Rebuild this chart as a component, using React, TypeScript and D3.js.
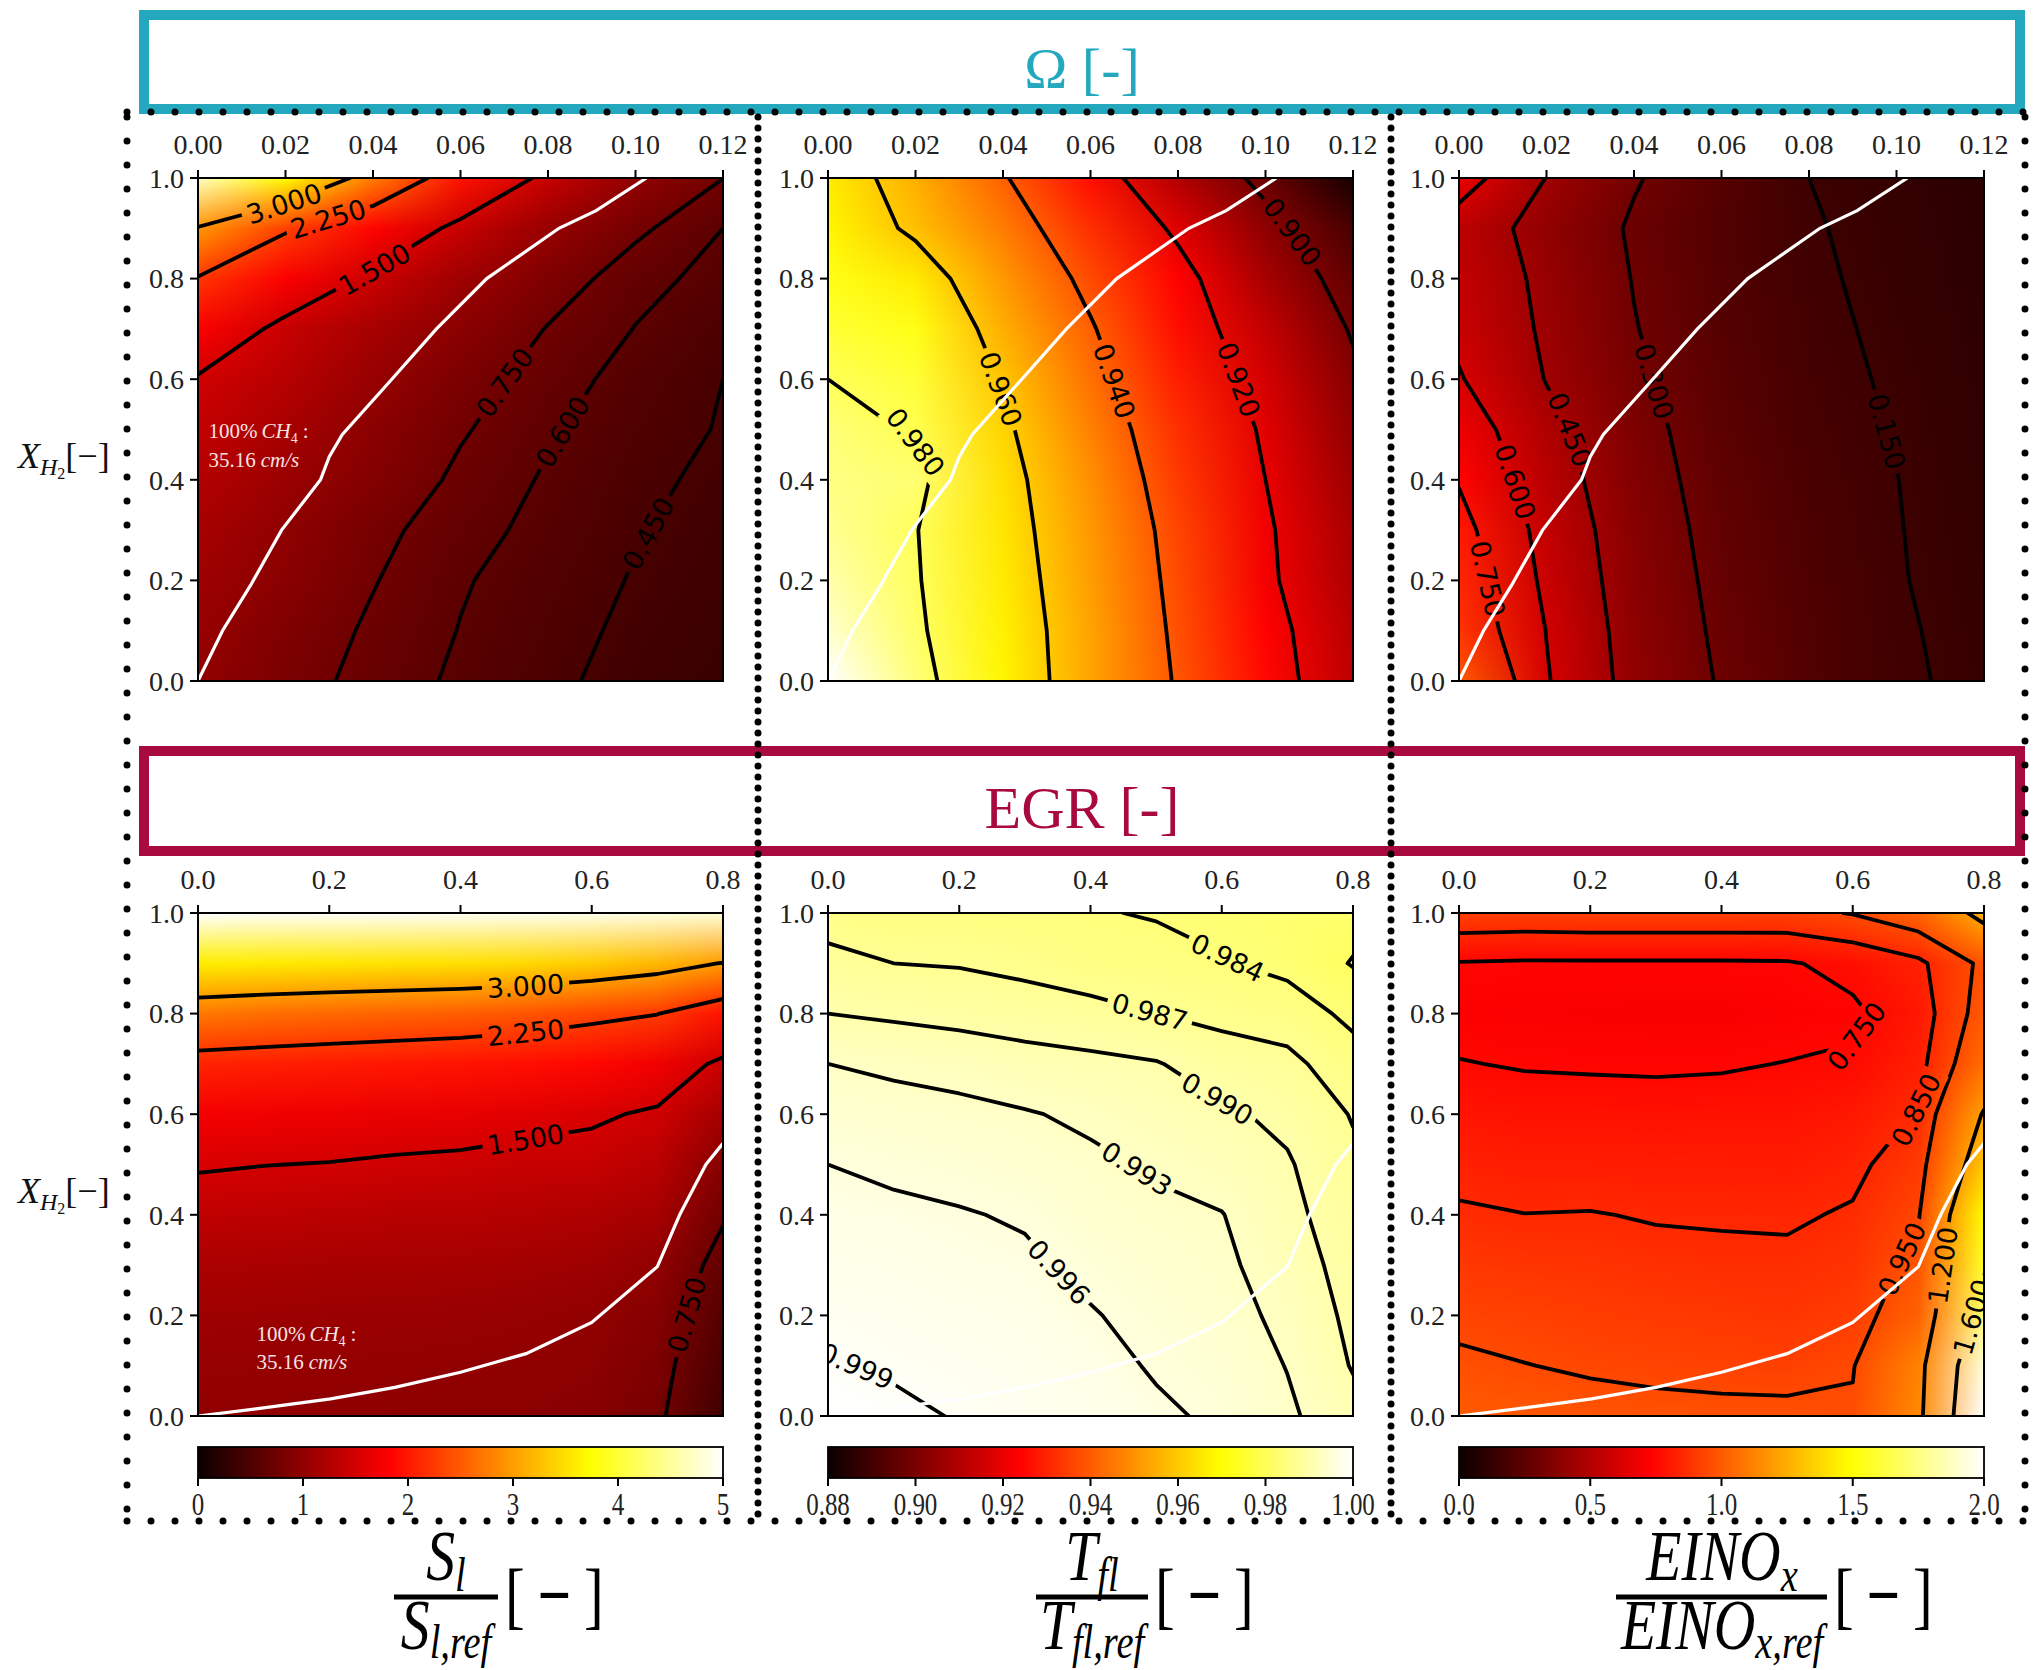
import React, { useMemo } from 'react';
import * as d3 from 'd3';

// ---------------- sampled grids ----------------
const omegaGrid = [0, 0.02, 0.04, 0.06, 0.08, 0.1, 0.12];
const egrGrid = [0, 0.1, 0.2, 0.3, 0.4, 0.5, 0.6, 0.7, 0.8];
const xh2Grid = [0, 0.1, 0.2, 0.3, 0.4, 0.5, 0.6, 0.7, 0.8, 0.9, 1.0];

// rows: X_H2 = 0.0 ... 1.0, columns: Omega grid
const slOmega = [
  [1.0, 0.83, 0.69, 0.57, 0.48, 0.40, 0.34],
  [1.05, 0.87, 0.72, 0.594, 0.50, 0.42, 0.36],
  [1.10, 0.94, 0.76, 0.615, 0.52, 0.44, 0.38],
  [1.17, 0.99, 0.80, 0.66, 0.55, 0.46, 0.40],
  [1.26, 1.07, 0.90, 0.71, 0.58, 0.48, 0.42],
  [1.37, 1.17, 0.95, 0.77, 0.62, 0.51, 0.44],
  [1.47, 1.28, 1.05, 0.84, 0.67, 0.54, 0.45],
  [1.80, 1.40, 1.16, 0.95, 0.74, 0.595, 0.49],
  [2.22, 1.80, 1.43, 1.10, 0.86, 0.65, 0.55],
  [2.95, 2.30, 1.85, 1.40, 1.05, 0.79, 0.60],
  [4.7, 3.7, 2.75, 1.95, 1.40, 1.02, 0.752],
];
const tflOmega = [
  [1.0, 0.984, 0.968, 0.953, 0.939, 0.925, 0.912],
  [0.994, 0.982, 0.967, 0.953, 0.938, 0.924, 0.911],
  [0.990, 0.981, 0.966, 0.952, 0.937, 0.922, 0.909],
  [0.987, 0.9805, 0.965, 0.951, 0.936, 0.9215, 0.908],
  [0.985, 0.983, 0.964, 0.9495, 0.934, 0.920, 0.906],
  [0.984, 0.979, 0.962, 0.947, 0.932, 0.9185, 0.904],
  [0.980, 0.976, 0.959, 0.944, 0.929, 0.916, 0.902],
  [0.976, 0.972, 0.955, 0.941, 0.926, 0.913, 0.899],
  [0.972, 0.966, 0.951, 0.937, 0.924, 0.908, 0.8955],
  [0.968, 0.958, 0.946, 0.932, 0.918, 0.9035, 0.891],
  [0.966, 0.955, 0.941, 0.926, 0.910, 0.897, 0.882],
];
const einoxOmega = [
  [1.0, 0.61, 0.40, 0.29, 0.21, 0.163, 0.13],
  [0.88, 0.597, 0.39, 0.28, 0.205, 0.16, 0.125],
  [0.84, 0.57, 0.38, 0.27, 0.20, 0.155, 0.12],
  [0.80, 0.55, 0.37, 0.26, 0.195, 0.153, 0.118],
  [0.74, 0.52, 0.355, 0.25, 0.19, 0.151, 0.115],
  [0.68, 0.49, 0.34, 0.24, 0.18, 0.146, 0.112],
  [0.61, 0.445, 0.32, 0.23, 0.175, 0.14, 0.108],
  [0.57, 0.43, 0.305, 0.22, 0.168, 0.135, 0.105],
  [0.55, 0.42, 0.295, 0.215, 0.162, 0.13, 0.10],
  [0.53, 0.40, 0.285, 0.21, 0.157, 0.125, 0.098],
  [0.67, 0.447, 0.31, 0.22, 0.15, 0.12, 0.095],
];

// rows: X_H2 = 0.0 ... 1.0, columns: EGR grid
const slEgr = [
  [1.0, 0.994, 0.988, 0.98, 0.97, 0.955, 0.93, 0.80, 0.40],
  [1.04, 1.03, 1.023, 1.015, 1.005, 0.99, 0.965, 0.85, 0.47],
  [1.10, 1.09, 1.08, 1.07, 1.06, 1.04, 1.005, 0.91, 0.55],
  [1.20, 1.18, 1.17, 1.16, 1.15, 1.13, 1.10, 1.003, 0.64],
  [1.35, 1.33, 1.31, 1.29, 1.28, 1.26, 1.22, 1.15, 0.78],
  [1.53, 1.505, 1.49, 1.46, 1.44, 1.40, 1.40, 1.30, 0.92],
  [1.75, 1.72, 1.70, 1.67, 1.65, 1.60, 1.54, 1.46, 1.15],
  [2.08, 2.05, 2.02, 1.99, 1.96, 1.92, 1.87, 1.72, 1.43],
  [2.72, 2.65, 2.60, 2.56, 2.52, 2.45, 2.35, 2.26, 1.95],
  [3.6, 3.58, 3.55, 3.52, 3.5, 3.45, 3.35, 3.2, 2.98],
  [5.0, 4.95, 4.95, 4.95, 4.94, 4.92, 4.9, 4.85, 4.8],
];
const tflEgr = [
  [1.0, 0.9997, 0.9988, 0.9982, 0.9975, 0.9965, 0.9955, 0.9935, 0.991],
  [0.9993, 0.9986, 0.9982, 0.9977, 0.997, 0.9957, 0.9948, 0.9929, 0.9898],
  [0.9983, 0.998, 0.9975, 0.9971, 0.9962, 0.9951, 0.9942, 0.9922, 0.9893],
  [0.9975, 0.9973, 0.9968, 0.9965, 0.9953, 0.9943, 0.9936, 0.9915, 0.9888],
  [0.9968, 0.9965, 0.9962, 0.9957, 0.9943, 0.9935, 0.9931, 0.9908, 0.9883],
  [0.996, 0.9955, 0.995, 0.9943, 0.9935, 0.9927, 0.9917, 0.9903, 0.9876],
  [0.9945, 0.994, 0.9937, 0.9932, 0.9925, 0.9915, 0.9905, 0.9893, 0.9868],
  [0.993, 0.9925, 0.992, 0.9912, 0.9907, 0.9902, 0.9885, 0.9878, 0.9852],
  [0.990, 0.9895, 0.989, 0.9885, 0.988, 0.987, 0.9862, 0.9855, 0.9833],
  [0.988, 0.987, 0.9868, 0.9862, 0.9852, 0.985, 0.9842, 0.9832, 0.9808],
  [0.9855, 0.985, 0.9848, 0.9845, 0.9842, 0.9838, 0.9832, 0.9825, 0.9822],
];
const einoxEgr = [
  [1.0, 0.99, 0.98, 0.975, 0.97, 0.97, 0.96, 1.14, 2.0],
  [0.965, 0.952, 0.94, 0.93, 0.925, 0.92, 0.945, 1.12, 1.92],
  [0.93, 0.92, 0.91, 0.90, 0.895, 0.885, 0.91, 1.02, 1.72],
  [0.895, 0.885, 0.88, 0.87, 0.865, 0.865, 0.88, 0.98, 1.57],
  [0.86, 0.851, 0.853, 0.845, 0.843, 0.84, 0.858, 0.94, 1.48],
  [0.825, 0.815, 0.815, 0.812, 0.812, 0.808, 0.83, 0.90, 1.32],
  [0.79, 0.78, 0.78, 0.778, 0.78, 0.78, 0.80, 0.855, 1.214],
  [0.753, 0.745, 0.742, 0.74, 0.743, 0.752, 0.76, 0.82, 1.056],
  [0.725, 0.715, 0.712, 0.71, 0.71, 0.72, 0.735, 0.80, 1.0],
  [0.745, 0.74, 0.74, 0.74, 0.74, 0.742, 0.775, 0.83, 0.974],
  [0.92, 0.915, 0.92, 0.92, 0.92, 0.92, 0.955, 1.02, 1.26],
];

// contour levels
const slLevelsOmega = [0.45, 0.6, 0.75, 1.5, 2.25, 3.0];
const tflLevelsOmega = [0.9, 0.92, 0.94, 0.96, 0.98];
const einoxLevelsOmega = [0.15, 0.3, 0.45, 0.6, 0.75];
const slLevelsEgr = [0.75, 1.5, 2.25, 3.0];
const tflLevelsEgr = [0.981, 0.984, 0.987, 0.99, 0.993, 0.996, 0.999];
const einoxLevelsEgr = [0.75, 0.85, 0.95, 1.2, 1.6];

// S_l = S_l,ref line (100% CH4 : 35.16 cm/s)
const refLineOmega = [[0, 0], [0.0056, 0.1], [0.012, 0.19], [0.0191, 0.3], [0.028, 0.4], [0.030, 0.446], [0.033, 0.49], [0.0443, 0.6], [0.0545, 0.7], [0.066, 0.8], [0.0825, 0.9], [0.091, 0.935], [0.1025, 1.0]];
const refLineEgr = [[0, 0], [0.1, 0.016], [0.202, 0.034], [0.3, 0.057], [0.4, 0.087], [0.5, 0.124], [0.6, 0.186], [0.7, 0.297], [0.734, 0.4], [0.774, 0.5], [0.8, 0.542]];

// ticks
const omegaTicks = [0, 0.02, 0.04, 0.06, 0.08, 0.1, 0.12];
const egrTicks = [0, 0.2, 0.4, 0.6, 0.8];
const xh2Ticks = [0, 0.2, 0.4, 0.6, 0.8, 1.0];
const slTicks = [0, 1, 2, 3, 4, 5];
const tflTicks = [0.88, 0.9, 0.92, 0.94, 0.96, 0.98, 1.0];
const einoxTicks = [0, 0.5, 1, 1.5, 2];

// ---------------- layout ----------------
const PW = 525, PH = 503;
const COLS = [198, 828, 1459];
const ROWS = [178, 913];
const CB_Y = 1447, CB_H = 31;
const LFS = 27; // contour label font size

// where clabel put the labels: [level, x, X_H2]
const slOmegaLabelAt = [[3.0, 0.0196, 0.951], [2.25, 0.0298, 0.917], [1.5, 0.0396, 0.829], [0.75, 0.069, 0.6], [0.6, 0.082, 0.503], [0.45, 0.1012, 0.302]];
const tflOmegaLabelAt = [[0.98, 0.0224, 0.5], [0.96, 0.0404, 0.583], [0.94, 0.0667, 0.6], [0.92, 0.0942, 0.6], [0.9, 0.1075, 0.9]];
const einoxOmegaLabelAt = [[0.75, 0.0065, 0.203], [0.6, 0.0144, 0.4], [0.45, 0.0268, 0.503], [0.3, 0.0454, 0.598], [0.15, 0.0995, 0.5]];
const slEgrLabelAt = [[3.0, 0.499, 0.859], [2.25, 0.499, 0.768], [1.5, 0.499, 0.551], [0.75, 0.748, 0.2]];
const tflEgrLabelAt = [[0.984, 0.603, 0.901], [0.987, 0.49, 0.802], [0.99, 0.603, 0.65], [0.993, 0.479, 0.506], [0.996, 0.366, 0.304], [0.999, 0.045, 0.103]];
const einoxEgrLabelAt = [[0.75, 0.598, 0.76], [0.85, 0.7, 0.605], [0.95, 0.693, 0.3], [1.2, 0.735, 0.3], [1.6, 0.774, 0.2]];

// matplotlib "hot"
const hot = d3.scaleLinear<string>()
  .domain([0, 0.365079, 0.746032, 1])
  .range(['#0b0000', '#ff0000', '#ffff00', '#ffffff'])
  .clamp(true);

// gouraud-like shading: colour each grid node, blend the colours between nodes
function heatmapHref(field: number[][], norm: number[], w: number, h: number) {
  const canvas = document.createElement('canvas');
  canvas.width = w;
  canvas.height = h;
  const ctx = canvas.getContext('2d')!;
  const img = ctx.createImageData(w, h);
  const ny = field.length, nx = field[0].length;
  const toT = d3.scaleLinear().domain(norm).range([0, 1]).clamp(true);
  const cols = field.map((row) => row.map((v) => d3.rgb(hot(toT(v)))));
  for (let py = 0; py < h; py++) {
    const fy = (1 - (py + 0.5) / h) * (ny - 1);
    const j = Math.min(ny - 2, Math.max(0, Math.floor(fy)));
    const ty = fy - j;
    for (let px = 0; px < w; px++) {
      const fx = ((px + 0.5) / w) * (nx - 1);
      const i = Math.min(nx - 2, Math.max(0, Math.floor(fx)));
      const tx = fx - i;
      const a = cols[j][i], b = cols[j][i + 1], c = cols[j + 1][i], d = cols[j + 1][i + 1];
      const w00 = (1 - tx) * (1 - ty), w10 = tx * (1 - ty), w01 = (1 - tx) * ty, w11 = tx * ty;
      const o = (py * w + px) * 4;
      img.data[o] = a.r * w00 + b.r * w10 + c.r * w01 + d.r * w11;
      img.data[o + 1] = a.g * w00 + b.g * w10 + c.g * w01 + d.g * w11;
      img.data[o + 2] = a.b * w00 + b.b * w10 + c.b * w01 + d.b * w11;
      img.data[o + 3] = 255;
    }
  }
  ctx.putImageData(img, 0, 0);
  return canvas.toDataURL();
}

// walk s pixels along a closed ring from segment k, param t
function pointAlong(pts: number[][], k: number, t: number, s: number) {
  const nSeg = pts.length - 1;
  let i = k, pos = t, rem = Math.abs(s);
  const fwd = s >= 0;
  for (let g = 0; g < nSeg + 2; g++) {
    const [x1, y1] = pts[i], [x2, y2] = pts[i + 1];
    const L = Math.hypot(x2 - x1, y2 - y1);
    const avail = fwd ? (1 - pos) * L : pos * L;
    if (L > 0 && avail >= rem) {
      const p = fwd ? pos + rem / L : pos - rem / L;
      return [x1 + p * (x2 - x1), y1 + p * (y2 - y1)];
    }
    rem -= avail;
    if (fwd) { i = (i + 1) % nSeg; pos = 0; } else { i = (i - 1 + nSeg) % nSeg; pos = 1; }
  }
  return pts[k];
}

const fmt3 = d3.format('.3f');

function Panel({ id, left, top, xs, field, norm, levels, labelAt, xTicks, xFmt, refLine, note }: any) {
  const nx = xs.length, ny = xh2Grid.length;
  const x = d3.scaleLinear().domain([xs[0], xs[nx - 1]]).range([left, left + PW]);
  const y = d3.scaleLinear().domain([0, 1]).range([top + PH, top]);
  const gx = d3.scaleLinear().domain([0.5, nx - 0.5]).range([left, left + PW]);
  const gy = d3.scaleLinear().domain([0.5, ny - 0.5]).range([top + PH, top]);

  const href = useMemo(() => heatmapHref(field, norm, PW, PH), [field, norm]);
  const polys = useMemo(() => d3.contours().size([nx, ny]).thresholds(levels)(field.flat()), [field, levels]);
  const path = d3.geoPath(d3.geoTransform({
    point(px: number, py: number) { (this as any).stream.point(gx(px), gy(py)); },
  }) as any);

  const inside = (px: number, py: number) => px >= left - 0.5 && px <= left + PW + 0.5 && py >= top - 0.5 && py <= top + PH + 0.5;

  const labels = labelAt.map(([lv, lx, ly]: number[]) => {
    const poly = polys.find((p) => Math.abs(p.value - lv) < 1e-9);
    const ax = x(lx), ay = y(ly);
    const text = fmt3(lv);
    const w = LFS * (text.replace('.', '').length * 0.636 + 0.318);
    let best = { d: Infinity, px: ax, py: ay, a: 0 };
    if (poly) {
      poly.coordinates.forEach((pg: any) => pg.forEach((ring: number[][]) => {
        const pts = ring.map(([cx, cy]) => [gx(cx), gy(cy)]);
        for (let k = 0; k < pts.length - 1; k++) {
          const [x1, y1] = pts[k], [x2, y2] = pts[k + 1];
          if (!inside(x1, y1) || !inside(x2, y2)) continue;
          const dx = x2 - x1, dy = y2 - y1, L2 = dx * dx + dy * dy;
          if (L2 === 0) continue;
          const t = Math.max(0, Math.min(1, ((ax - x1) * dx + (ay - y1) * dy) / L2));
          const px = x1 + t * dx, py = y1 + t * dy;
          const d = Math.hypot(ax - px, ay - py);
          if (d < best.d) {
            const p0 = pointAlong(pts, k, t, -w / 2);
            const p1 = pointAlong(pts, k, t, w / 2);
            let a = (Math.atan2(p1[1] - p0[1], p1[0] - p0[0]) * 180) / Math.PI;
            if (a > 90) a -= 180;
            if (a <= -90) a += 180;
            best = { d, px, py, a };
          }
        }
      }));
    }
    return { text, w, x: best.px, y: best.py, a: best.a };
  });

  const refPath = d3.line().x((d: any) => x(d[0])).y((d: any) => y(d[1]))(refLine as any);

  return (
    <g>
      <defs>
        <clipPath id={`clip-${id}`}>
          <rect x={left} y={top} width={PW} height={PH} />
        </clipPath>
        <mask id={`mask-${id}`} maskUnits="userSpaceOnUse" x={left - 20} y={top - 20} width={PW + 40} height={PH + 40}>
          <rect x={left - 20} y={top - 20} width={PW + 40} height={PH + 40} fill="white" />
          {labels.map((l: any, i: number) => (
            <rect key={i} x={-l.w / 2 - 5} y={-LFS * 0.55} width={l.w + 10} height={LFS * 1.1} fill="black"
              transform={`translate(${l.x},${l.y}) rotate(${l.a})`} />
          ))}
        </mask>
      </defs>
      <image href={href} x={left} y={top} width={PW} height={PH} preserveAspectRatio="none" />
      <g clipPath={`url(#clip-${id})`}>
        <g mask={`url(#mask-${id})`}>
          {polys.map((p, i) => (
            <path key={i} d={path(p as any) || ''} fill="none" stroke="#000" strokeWidth={3.8} strokeLinejoin="round" />
          ))}
        </g>
        {labels.map((l: any, i: number) => (
          <text key={i} transform={`translate(${l.x},${l.y}) rotate(${l.a})`} textAnchor="middle" dy="0.36em"
            fontFamily="'DejaVu Sans', sans-serif" fontSize={LFS} fill="#000">{l.text}</text>
        ))}
        <path d={refPath || ''} fill="none" stroke="#fff" strokeWidth={3.2} />
        {note && (
          <g fill="#f6e3e3" fontSize={21}>
            <text x={x(note[0])} y={y(note[1])}>100%<tspan dx={4} fontStyle="italic">CH</tspan><tspan fontSize={14} dy={5}>4</tspan><tspan dy={-5} dx={5}>:</tspan></text>
            <text x={x(note[0])} y={y(note[2])}>35.16<tspan dx={5} fontStyle="italic">cm/s</tspan></text>
          </g>
        )}
      </g>
      <rect x={left} y={top} width={PW} height={PH} fill="none" stroke="#000" strokeWidth={2} />
      {xTicks.map((t: number) => (
        <g key={`x${t}`}>
          <line x1={x(t)} x2={x(t)} y1={top} y2={top - 8} stroke="#000" strokeWidth={2} />
          <text x={x(t)} y={top - 24} textAnchor="middle" fontSize={28} fill="#222">{xFmt(t)}</text>
        </g>
      ))}
      {xh2Ticks.map((t) => (
        <g key={`y${t}`}>
          <line x1={left - 8} x2={left} y1={y(t)} y2={y(t)} stroke="#000" strokeWidth={2} />
          <text x={left - 14} y={y(t)} dy="0.35em" textAnchor="end" fontSize={28} fill="#222">{d3.format('.1f')(t)}</text>
        </g>
      ))}
    </g>
  );
}

function Colorbar({ id, left, norm, ticks, tickFmt }: any) {
  const s = d3.scaleLinear().domain(norm).range([left, left + PW]);
  return (
    <g>
      <defs>
        <linearGradient id={`cb-${id}`} x1="0" x2="1" y1="0" y2="0">
          {[0, 0.365079, 0.746032, 1].map((o) => <stop key={o} offset={o} stopColor={hot(o)} />)}
        </linearGradient>
      </defs>
      <rect x={left} y={CB_Y} width={PW} height={CB_H} fill={`url(#cb-${id})`} stroke="#000" strokeWidth={1.8} />
      {ticks.map((t: number) => (
        <g key={t}>
          <line x1={s(t)} x2={s(t)} y1={CB_Y + CB_H} y2={CB_Y + CB_H + 8} stroke="#000" strokeWidth={2} />
          <g transform={`translate(${s(t)},${CB_Y + CB_H + 37}) scale(0.78,1)`}>
            <text textAnchor="middle" fontSize={32} fill="#222">{tickFmt(t)}</text>
          </g>
        </g>
      ))}
    </g>
  );
}

function FracLabel({ cx, barL, barR, num, sub, brX }: any) {
  return (
    <g fill="#000">
      <g transform={`translate(${cx},1580) scale(0.8,1)`}>
        <text textAnchor="middle" fontSize={72} fontStyle="italic">{num}<tspan fontSize={48} dy={11}>{sub}</tspan></text>
      </g>
      <line x1={barL} x2={barR} y1={1597} y2={1597} stroke="#000" strokeWidth={5} />
      <g transform={`translate(${cx},1649) scale(0.8,1)`}>
        <text textAnchor="middle" fontSize={72} fontStyle="italic">{num}<tspan fontSize={48} dy={9}>{sub},ref</tspan></text>
      </g>
      <g transform={`translate(${brX},1620) scale(0.8,1)`}>
        <text fontSize={74}>[<tspan dx={16} fontWeight="bold">−</tspan><tspan dx={16}>]</tspan></text>
      </g>
    </g>
  );
}

function YLabel({ yb }: any) {
  return (
    <text x={18} y={yb} fontSize={36} fill="#111">
      <tspan fontStyle="italic">X</tspan>
      <tspan fontStyle="italic" fontSize={24} dy={7}>H</tspan>
      <tspan fontSize={16} dy={4}>2</tspan>
      <tspan dy={-11}>[−]</tspan>
    </text>
  );
}

export default function App() {
  const fOmega = d3.format('.2f');
  const fEgr = d3.format('.1f');
  const panels = [
    { id: 'p1', left: COLS[0], top: ROWS[0], xs: omegaGrid, field: slOmega, norm: [0, 5], levels: slLevelsOmega, labelAt: slOmegaLabelAt, xTicks: omegaTicks, xFmt: fOmega, refLine: refLineOmega, note: [0.0024, 0.483, 0.426] },
    { id: 'p2', left: COLS[1], top: ROWS[0], xs: omegaGrid, field: tflOmega, norm: [0.88, 1.0], levels: tflLevelsOmega, labelAt: tflOmegaLabelAt, xTicks: omegaTicks, xFmt: fOmega, refLine: refLineOmega },
    { id: 'p3', left: COLS[2], top: ROWS[0], xs: omegaGrid, field: einoxOmega, norm: [0, 2], levels: einoxLevelsOmega, labelAt: einoxOmegaLabelAt, xTicks: omegaTicks, xFmt: fOmega, refLine: refLineOmega },
    { id: 'p4', left: COLS[0], top: ROWS[1], xs: egrGrid, field: slEgr, norm: [0, 5], levels: slLevelsEgr, labelAt: slEgrLabelAt, xTicks: egrTicks, xFmt: fEgr, refLine: refLineEgr, note: [0.089, 0.149, 0.093] },
    { id: 'p5', left: COLS[1], top: ROWS[1], xs: egrGrid, field: tflEgr, norm: [0.88, 1.0], levels: tflLevelsEgr, labelAt: tflEgrLabelAt, xTicks: egrTicks, xFmt: fEgr, refLine: refLineEgr },
    { id: 'p6', left: COLS[2], top: ROWS[1], xs: egrGrid, field: einoxEgr, norm: [0, 2], levels: einoxLevelsEgr, labelAt: einoxEgrLabelAt, xTicks: egrTicks, xFmt: fEgr, refLine: refLineEgr },
  ];

  const dotV = (xx: number, gap: number) => (
    <line x1={xx} x2={xx} y1={117} y2={1521} stroke="#000" strokeWidth={7} strokeLinecap="round" strokeDasharray={`0 ${gap}`} />
  );

  return (
    <svg width={2039} height={1670} style={{ position: 'absolute', left: 0, top: 0 }} fontFamily="'Liberation Serif', serif">
      <rect width={2039} height={1670} fill="#fff" />

      {/* group boxes */}
      <rect x={144} y={15} width={1876} height={94} fill="#fff" stroke="#24a8bd" strokeWidth={10} />
      <text x={1082} y={88} textAnchor="middle" fontSize={58} fill="#24a8bd">Ω [-]</text>
      <rect x={144} y={751} width={1876} height={100} fill="#fff" stroke="#a80a3f" strokeWidth={10} />
      <text x={1082} y={828} textAnchor="middle" fontSize={60} fill="#a80a3f">EGR [-]</text>

      {panels.map((p) => <Panel key={p.id} {...p} />)}

      <Colorbar id="c1" left={COLS[0]} norm={[0, 5]} ticks={slTicks} tickFmt={d3.format('d')} />
      <Colorbar id="c2" left={COLS[1]} norm={[0.88, 1.0]} ticks={tflTicks} tickFmt={d3.format('.2f')} />
      <Colorbar id="c3" left={COLS[2]} norm={[0, 2]} ticks={einoxTicks} tickFmt={d3.format('.1f')} />

      <YLabel yb={468} />
      <YLabel yb={1203} />

      {/* dotted frames */}
      {dotV(127, 24)}
      {dotV(758, 11)}
      {dotV(1391, 11)}
      {dotV(2025, 24)}
      <line x1={127} x2={2025} y1={112} y2={112} stroke="#000" strokeWidth={7} strokeLinecap="round" strokeDasharray="0 24" />
      <line x1={127} x2={2025} y1={1521} y2={1521} stroke="#000" strokeWidth={7} strokeLinecap="round" strokeDasharray="0 24" />

      <FracLabel cx={446} barL={394} barR={498} num="S" sub="l" brX={505} />
      <FracLabel cx={1092} barL={1036} barR={1148} num="T" sub="fl" brX={1155} />
      <FracLabel cx={1722} barL={1616} barR={1827} num="EINO" sub="x" brX={1834} />
    </svg>
  );
}
